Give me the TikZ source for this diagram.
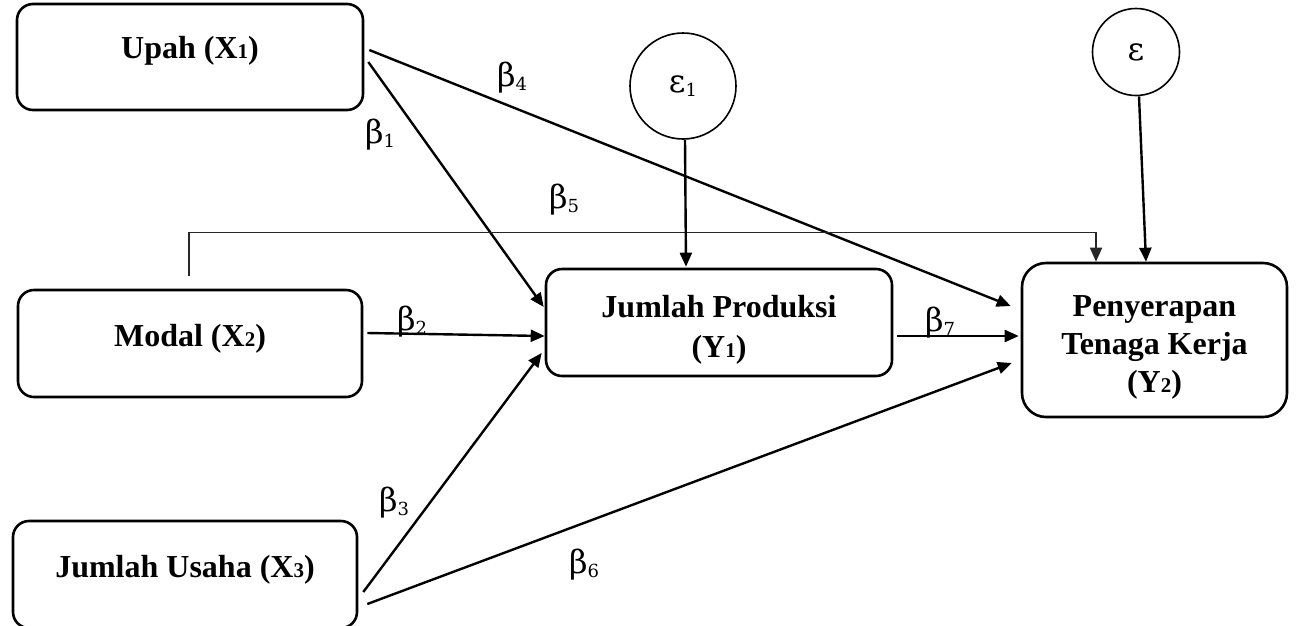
\documentclass[tikz,border=0pt]{standalone}
\usepackage{fontspec}
\setmainfont{Liberation Serif}
\newfontfamily\greekfont{DejaVu Serif}
\usetikzlibrary{arrows.meta}

% coefficient label: Greek letter with a lowered index digit
\newcommand\coef[2]{{\greekfont\fontsize{32}{32}\selectfont #1\raisebox{-4pt}{\fontsize{18}{18}\selectfont #2}}}
% smaller index digit inside bold variable names
\newcommand\idx[1]{{\fontsize{21}{21}\selectfont #1}}
% lift box text without changing its size
\newcommand\lift[2]{\raisebox{#1}[\height][\depth]{#2}}

\begin{document}
\begin{tikzpicture}[x=1pt,y=-1pt,
  varbox/.style={draw, line width=2.6pt, rounded corners=16pt, align=center,
    font=\fontsize{32}{41}\selectfont\bfseries, inner sep=0pt},
  errcirc/.style={draw, line width=1.6pt, circle, inner sep=0pt},
  lbl/.style={inner sep=0pt},
  path/.style={line width=2.4pt, -{Triangle[length=14pt,width=12pt]}},
  thinpath/.style={line width=1.5pt, draw=black!85, -{Triangle[length=14pt,width=12pt]}}]

\useasboundingbox (0,0) rectangle (1296,625);

% variables
\node[varbox, minimum width=346pt, minimum height=106pt] (upah) at (190,57)
  {\lift{6pt}{Upah (X\idx{1})}};
\node[varbox, minimum width=344pt, minimum height=107pt] (modal) at (190,343.5)
  {\lift{5pt}{Modal (X\idx{2})}};
\node[varbox, minimum width=344pt, minimum height=107pt] (usaha) at (185,574.5)
  {\lift{5pt}{Jumlah Usaha (X\idx{3})}};
\node[varbox, minimum width=346pt, minimum height=107pt] (prod) at (719,322.5)
  {\lift{-7pt}{\begin{tabular}{@{}c@{}}Jumlah Produksi\\[-1pt](Y\idx{1})\end{tabular}}};
\node[varbox, rounded corners=24pt, minimum width=265pt, minimum height=154pt] (kerja) at (1154.5,340)
  {\lift{-6pt}{\begin{tabular}{@{}c@{}}Penyerapan\\[-3pt]Tenaga Kerja\\[-3pt](Y\idx{2})\end{tabular}}};

% error terms
\node[errcirc, minimum size=106pt] (e1) at (683,86)
  {\coef{ε}{1}};
\node[errcirc, minimum size=87pt] (e2) at (1136,52)
  {{\greekfont\fontsize{32}{32}\selectfont ε}};

% paths
\draw[path] ([shift={(4,5)}]upah.east) -- ([shift={(-1,-15.5)}]prod.west);
\draw[path] ([shift={(5,-7)}]upah.east) -- ([shift={(-10,-34)}]kerja.west);
\draw[thinpath] ([shift={(-1,-13)}]modal.north) -- ++(0,-43) -| ([shift={(-58.5,0)}]kerja.north);
\draw[path] ([shift={(4,-10.5)}]modal.east) -- ([shift={(0,13.5)}]prod.west);
\draw[path] ([shift={(5,17.5)}]usaha.east) -- ([shift={(-3,30.5)}]prod.west);
\draw[path] ([shift={(9,29.5)}]usaha.east) -- ([shift={(-9,23)}]kerja.west);
\draw[path] ([shift={(4,13.5)}]prod.east) -- ([shift={(-2,-4)}]kerja.west);
\draw[path] ([shift={(2,0)}]e1.south) -- ([shift={(-33,-1)}]prod.north);
\draw[path] ([shift={(3,0)}]e2.south) -- ([shift={(-8.5,0)}]kerja.north);

% coefficients
\node[lbl] (b1) at (380,135) {\coef{β}{1}};
\node[lbl] (b2) at (412,322) {\coef{β}{2}};
\node[lbl] (b3) at (394,503) {\coef{β}{3}};
\node[lbl] (b4) at (512,78) {\coef{β}{4}};
\node[lbl] (b5) at (564,200) {\coef{β}{5}};
\node[lbl] (b6) at (584,565) {\coef{β}{6}};
\node[lbl] (b7) at (940,323) {\coef{β}{7}};

\end{tikzpicture}
\end{document}
